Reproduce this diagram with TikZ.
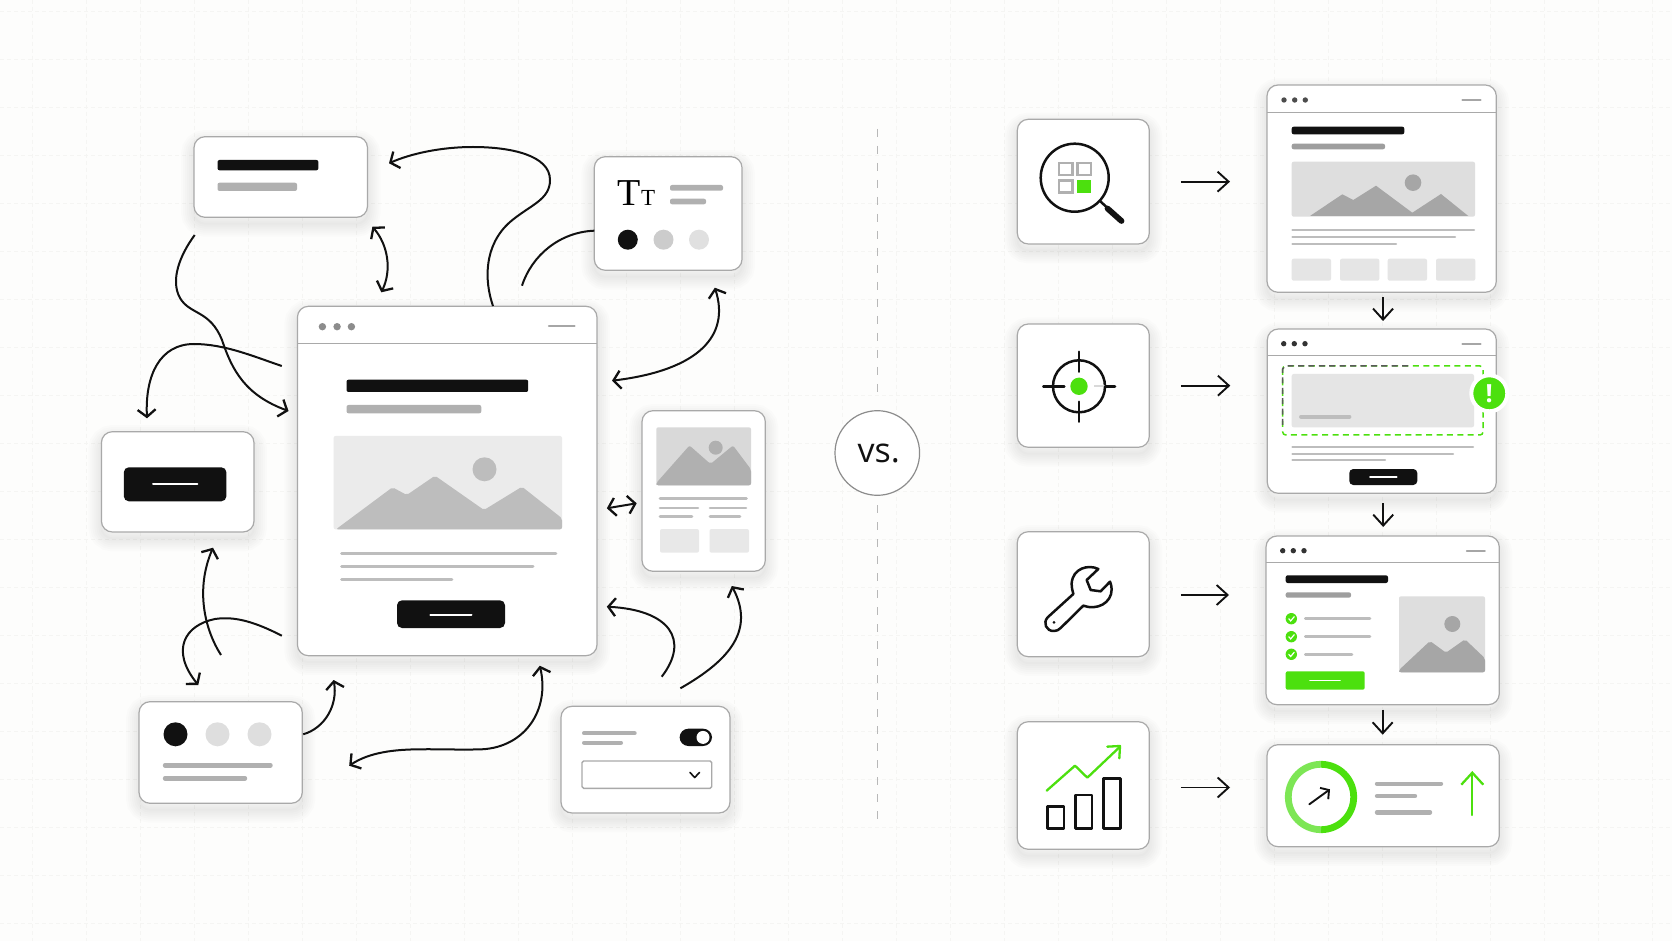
\documentclass[tikz,border=0pt]{standalone}
\usepackage{fontspec}
\setmainfont{Open Sans}
\newfontfamily\serifface{Liberation Serif}
\usepackage{xcolor}
\usepackage{tikz}
\usetikzlibrary{arrows,positioning,calc,arrows.meta}
\definecolor{paper}{HTML}{FDFDFC}
\definecolor{gridc}{HTML}{F5F5F3}
\definecolor{ink}{HTML}{111111}
\definecolor{edge}{HTML}{A9A9A9}
\definecolor{midg}{HTML}{B0B0B0}
\definecolor{lineg}{HTML}{BDBDBD}
\definecolor{softg}{HTML}{E6E6E6}
\definecolor{hit}{HTML}{4CE00E}
\definecolor{hitsoft}{HTML}{7DE655}

\begin{document}
\begin{tikzpicture}[x=0.5pt, y=-0.5pt,
  glow/.style={preaction={draw=black, fill=none, draw opacity=0.011, line width=#1,
    transform canvas={yshift=-3.2pt}}},
  card/.style={glow=1pt, glow=3pt, glow=5pt, glow=7pt, glow=9pt, glow=11pt, glow=13pt,
    draw=edge, fill=white, line width=0.6pt, rounded corners=5.5pt,
    inner sep=0pt, outer sep=0pt},
  head/.style={draw=edge, line width=0.6pt},
  dark/.style={fill=ink, rounded corners=1pt},
  grey/.style={fill=midg, rounded corners=1pt},
  txt/.style={draw=lineg, line width=1.5pt, line cap=round},
  txtw/.style={draw=white, line width=1pt, line cap=round},
  link/.style={draw=ink, line width=1pt, >={Straight Barb[length=3.6pt,width=9pt,line width=1.15pt]}},
  flow/.style={draw=ink, line width=0.95pt, ->, >={Straight Barb[length=5.5pt,width=10pt]}},
  icon/.style={draw=ink, line width=1.25pt, line cap=round, line join=round},
  hiticon/.style={draw=hit, line width=1.15pt, line cap=round, line join=round}]
  % Page and faint grid
  \fill[paper] (0,0) rectangle (1672,941);
  \useasboundingbox (0,0) rectangle (1672,941);
  \foreach \gx in {0,...,30}
    \draw[gridc, line width=0.5pt, dash pattern=on 2pt off 1.5pt] ({32.5+54*\gx},0) -- ({32.5+54*\gx},941);
  \foreach \gy in {0,...,19}
    \draw[gridc, line width=0.5pt, dash pattern=on 2pt off 1.5pt] (0,{11.5+48*\gy}) -- (1672,{11.5+48*\gy});

  % Left side cards
  \node[card, minimum width=86.75pt, minimum height=40.3pt] (title) at (280.75,177) {};
  \fill[dark] (217.5,160) rectangle (318.4,170.3);
  \fill[grey] (217.5,182.7) rectangle (297,191);

  \node[card, minimum width=73.85pt, minimum height=56.8pt] (typo) at (668.15,213.5) {};
  \node[inner sep=0pt] (tt) at (636.5,193) {\serifface\fontsize{19}{19}\selectfont T\fontsize{11.5}{12}\selectfont T};
  \fill[grey] (670,185) rectangle (723,190.7);
  \fill[grey] (670,198.7) rectangle (706,204.3);
  \fill[ink] (627.8,239.7) circle (10);
  \fill[black!20] (663.5,239.7) circle (10);
  \fill[black!12] (699,239.7) circle (10);

  % Main page
  \node[card, minimum width=149.8pt, minimum height=174.7pt] (main) at (447.2,481) {};
  \draw[head] (297.4,343.3) -- (597,343.3);
  \foreach \dx in {322.4,337.1,351.4}
    \fill[black!45] (\dx,326.7) circle (3.7);
  \draw[txt, line width=1pt, black!35] (548.8,326.3) -- (574.6,326.3);
  \fill[dark] (346.5,379.7) rectangle (528.2,392);
  \fill[grey] (346.5,405) rectangle (481.3,413.3);
  \fill[black!8, rounded corners=1pt] (333.6,436) rectangle (562,529.3);
  \fill[black!26, rounded corners=1pt] (336,529.3) -- (392.5,487.3) -- (406.8,495) -- (435,475.7)
    -- (484,510) -- (522,486.7) -- (562,518.3) -- (562,529.3) -- cycle;
  \fill[black!26] (484.5,469.3) circle (12);
  \draw[txt] (341.6,553.7) -- (555.9,553.7);
  \draw[txt] (341.6,566) -- (533,566);
  \draw[txt] (341.6,579) -- (451.9,579);
  \fill[dark, rounded corners=2.5pt] (397,600.3) rectangle (505,628);
  \draw[txtw] (430.4,614.7) -- (471.5,614.7);

  % Phone card
  \node[card, minimum width=61.65pt, minimum height=80.3pt] (phone) at (703.65,491) {};
  \fill[black!15, rounded corners=1pt] (656.3,427.3) rectangle (751,485.3);
  \fill[black!31, rounded corners=1pt] (656.3,483) -- (656.3,485.3) -- (751,485.3) -- (751,469.5)
    -- (733,445.5) -- (710.5,464) -- (689.5,445.5) -- cycle;
  \fill[black!31] (715.7,447.7) circle (7);
  \draw[txt, line width=1.3pt] (660,498.7) -- (746.5,498.7);
  \draw[txt, line width=1.3pt] (660,508) -- (698,508);
  \draw[txt, line width=1.3pt] (710,508) -- (746,508);
  \draw[txt, line width=1.3pt] (660,516.7) -- (692,516.7);
  \draw[txt, line width=1.3pt] (710,516.7) -- (740,516.7);
  \fill[black!9, rounded corners=1pt] (660,529) rectangle (699,552.7);
  \fill[black!9, rounded corners=1pt] (709.5,529) rectangle (749,552.7);

  % Button, swatch and form cards
  \node[card, minimum width=76.3pt, minimum height=50.15pt] (button) at (177.7,481.85) {};
  \fill[dark, rounded corners=2.5pt] (123.8,467.3) rectangle (226.4,501.3);
  \draw[txtw] (153,484) -- (197.4,484);

  \node[card, minimum width=81.65pt, minimum height=50.8pt] (swatch) at (220.65,752.5) {};
  \fill[ink] (175.5,734.3) circle (12);
  \fill[black!13] (217.5,734.3) circle (12);
  \fill[black!13] (259.5,734.3) circle (12);
  \draw[txt, midg, line width=2.2pt] (165,765.3) -- (270.5,765.3);
  \draw[txt, midg, line width=2.2pt] (165,778.3) -- (245,778.3);

  \node[card, minimum width=84.5pt, minimum height=53.35pt] (form) at (645.5,759.65) {};
  \draw[txt, midg, line width=2pt] (584,733.3) -- (634.7,733.3);
  \draw[txt, midg, line width=2pt] (584,742.7) -- (621,742.7);
  \fill[ink, rounded corners=4.4pt] (679.6,728.7) rectangle (712,746);
  \fill[white] (703,737.4) circle (6.5);
  \draw[edge, line width=0.7pt, rounded corners=0.8pt, fill=white] (582,761) rectangle (711.7,788.3);
  \draw[icon, line width=0.8pt] (690,772.5) -- (694.7,777.5) -- (699.5,772.5);

  % Arrows on the left
  \coordinate (a1) at (493,306);
  \coordinate (b1) at (389,163.3);
  \draw[link, ->] (a1) .. controls (484,280) and (484,245) .. (510,222)
    .. controls (530,205) and (550,200) .. (550,180)
    .. controls (550,155) and (510,147) .. (473,147)
    .. controls (440,147) and (410,154) .. (b1);
  \coordinate (a2) at (372.4,226.7);
  \coordinate (b2) at (381.3,292.3);
  \draw[link, <->] (a2) .. controls (388,245) and (392,270) .. (b2);
  \coordinate (a3) at (594.3,230.7);
  \coordinate (b3) at (522,285.7);
  \draw[link] (a3) .. controls (560,232) and (532,255) .. (b3);
  \coordinate (a4) at (714.8,287.7);
  \coordinate (b4) at (612,380.7);
  \draw[link, <->] (a4) .. controls (730,335) and (700,370) .. (b4);
  \coordinate (a5) at (606.8,508.3);
  \coordinate (b5) at (636.7,503.3);
  \draw[link, <->] (a5) -- (b5);
  \coordinate (a6) at (194.7,235);
  \coordinate (b6) at (288.5,411);
  \draw[link, ->] (a6) .. controls (180,255) and (170,280) .. (180,298)
    .. controls (190,315) and (210,310) .. (222,340)
    .. controls (232,370) and (245,395) .. (b6);
  \coordinate (a7) at (281.8,366);
  \coordinate (b7) at (147,418.3);
  \draw[link, ->] (a7) .. controls (255,357) and (225,344) .. (194,344)
    .. controls (160,344) and (145,375) .. (b7);
  \coordinate (a8) at (221,655);
  \coordinate (b8) at (213,547.7);
  \draw[link, ->] (a8) .. controls (205,630) and (195,590) .. (b8);
  \coordinate (a9) at (281.8,635.7);
  \coordinate (b9) at (198.3,685);
  \draw[link, ->] (a9) .. controls (255,622) and (235,616) .. (215,619)
    .. controls (185,625) and (170,650) .. (b9);
  \coordinate (a10) at (303.2,734.3);
  \coordinate (b10) at (333.6,680);
  \draw[link, ->] (a10) .. controls (325,728) and (338,705) .. (b10);
  \coordinate (a11) at (349.2,765.7);
  \coordinate (b11) at (539.8,665.7);
  \draw[link, <->] (a11) .. controls (370,752) and (395,749.5) .. (420,749.3)
    .. controls (440,749) and (460,750) .. (482,749.3)
    .. controls (525,747) and (550,710) .. (b11);
  \coordinate (a12) at (661.7,676.7);
  \coordinate (b12) at (606.8,606.7);
  \draw[link, ->] (a12) .. controls (690,640) and (670,610) .. (b12);
  \coordinate (a13) at (680.4,688.3);
  \coordinate (b13) at (731.8,586);
  \draw[link, ->] (a13) .. controls (730,660) and (755,630) .. (b13);

  % Divider
  \node[draw=black!45, fill=white, circle, line width=0.6pt, minimum size=42.3pt, inner sep=0pt, outer sep=0pt,
    font=\fontsize{17}{17}\selectfont, text=ink] (vs) at (877.3,453) {\raisebox{-1pt}{\hspace{1.5pt}vs.}};
  \coordinate (divtop) at (877.3,129);
  \coordinate (divbot) at (877.3,821);
  \draw[black!28, line width=0.7pt, dash pattern=on 4pt off 4.5pt, shorten >=5pt] (divtop) -- (vs.north);
  \draw[black!28, line width=0.7pt, dash pattern=on 4pt off 4.5pt, shorten <=5pt] (vs.south) -- (divbot);

  % Icon cards on the right
  \node[card, minimum width=66pt, minimum height=62.35pt] (find) at (1083.3,181.65) {};
  \draw[icon] (1074.7,177.7) circle (34);
  \draw[icon] (1100.5,201.5) -- (1107,207.5);
  \draw[icon, line width=2.9pt] (1107.5,208.5) -- (1121.5,221);
  \draw[midg, line width=1.2pt] (1059,163.3) rectangle (1072.3,175);
  \draw[midg, line width=1.2pt] (1077.3,163.3) rectangle (1090.7,175);
  \draw[midg, line width=1.2pt] (1059,180.7) rectangle (1072.3,192.7);
  \fill[hit] (1077.3,180.2) rectangle (1091,193.2);

  \node[card, minimum width=66pt, minimum height=61.65pt] (aim) at (1083.3,385.65) {};
  \draw[icon] (1079,386.3) circle (26);
  \draw[icon] (1043.3,386.3) -- (1064.3,386.3);
  \draw[black!15, line width=1pt] (1094.3,386.3) -- (1105,386.3);
  \draw[icon] (1105,386.3) -- (1115,386.3);
  \draw[icon] (1079,351.7) -- (1079,371.7);
  \draw[icon] (1079,401.7) -- (1079,421.7);
  \fill[hit] (1079,386.3) circle (8.7);

  \node[card, minimum width=66pt, minimum height=62.5pt] (fix) at (1083.3,594.2) {};
  \begin{scope}[shift={(1000,500)}, scale=1/3]
    \draw[icon] (295,207) .. controls (265,192) and (218,205) .. (215,250)
      .. controls (215,262) and (217,272) .. (220,282) -- (143,352)
      .. controls (128,368) and (138,394) .. (162,393)
      .. controls (170,393) and (176,390) .. (182,384) -- (250,317)
      .. controls (290,332) and (335,310) .. (335,268)
      .. controls (335,260) and (333,252) .. (330,245) -- (302,274)
      -- (272,270) -- (260,240) -- cycle;
    \fill[ink] (162,367) circle (4.5);
  \end{scope}

  \node[card, minimum width=66pt, minimum height=63.8pt] (growth) at (1083.3,785.5) {};
  \begin{scope}[shift={(1000,500)}, scale=1/3]
    \draw[hiticon] (140,872) -- (225,797) -- (262,833) -- (358,742);
    \draw[hiticon] (322,740) -- (360,738) -- (358,775);
    \draw[icon, line cap=butt] (142,920) rectangle (192,986);
    \draw[icon, line cap=butt] (226,885) rectangle (276,986);
    \draw[icon, line cap=butt] (310,836) rectangle (361,986);
  \end{scope}

  % Page one
  \node[card, minimum width=114.65pt, minimum height=103.65pt] (page1) at (1381.65,188.65) {};
  \draw[head] (1267,112.3) -- (1496.3,112.3);
  \foreach \dx in {1284,1294.7,1305.3}
    \fill[black!70] (\dx,100) circle (2.7);
  \draw[txt, line width=0.9pt, black!35] (1462.3,100) -- (1480.7,100);
  \fill[dark] (1291.7,126.7) rectangle (1404.3,134.3);
  \fill[grey, black!38] (1291.7,143.7) rectangle (1385,149.3);
  \fill[black!13, rounded corners=1pt] (1291.7,161.7) rectangle (1475,216.7);
  \fill[black!35] (1310,216) -- (1342.3,194.3) -- (1353.3,200) -- (1376,185.7) -- (1412.3,212.7)
    -- (1441,194) -- (1468.3,216) -- cycle;
  \fill[black!35] (1413,182.7) circle (8.3);
  \draw[txt, line width=1.1pt] (1292.5,230) -- (1474,230);
  \draw[txt, line width=1.1pt] (1292.5,237) -- (1455,237);
  \draw[txt, line width=1.1pt] (1292.5,244) -- (1396,244);
  \foreach \bx in {1291.7,1340,1387.7,1436}
    \fill[black!10, rounded corners=1pt] (\bx,258.7) rectangle ({\bx+39.3},280.7);

  % Page two
  \node[card, minimum width=114.5pt, minimum height=82.15pt] (page2) at (1381.8,411.15) {};
  \draw[head] (1267.3,355.3) -- (1496.3,355.3);
  \foreach \dx in {1283.7,1294.3,1305}
    \fill[black!80] (\dx,343.7) circle (2.7);
  \draw[txt, line width=0.9pt, black!35] (1462.3,343.7) -- (1480.7,343.7);
  \fill[black!10, rounded corners=1pt] (1291.7,374) rectangle (1474,427.3);
  \draw[txt, line width=1.9pt] (1301,416.7) -- (1349.5,416.7);
  \draw[hit, line width=0.75pt, dash pattern=on 3pt off 2.2pt, rounded corners=1.5pt] (1282.7,366) rectangle (1483,435);
  \draw[black!65, line width=0.75pt, dash pattern=on 3pt off 2.2pt] (1282.7,425) -- (1282.7,369) -- (1285,366) -- (1410,366);
  \draw[txt, line width=1.1pt] (1292.5,447) -- (1473,447);
  \draw[txt, line width=1.1pt] (1292.5,453.7) -- (1453,453.7);
  \draw[txt, line width=1.1pt] (1292.5,460.3) -- (1385,460.3);
  \fill[dark, rounded corners=2pt] (1349.3,469) rectangle (1417.3,485);
  \draw[txtw, line width=0.9pt] (1370,477) -- (1396.7,477);
  \node[circle, fill=hit, draw=white, line width=2pt, minimum size=18pt, inner sep=0pt,
    font=\bfseries\fontsize{12.5}{12.5}\selectfont, text=white] (alert) at (1489.3,393.3) {!};

  % Page three
  \node[card, minimum width=116.65pt, minimum height=84.35pt] (page3) at (1382.65,620.35) {};
  \draw[head] (1266,562.3) -- (1499.3,562.3);
  \foreach \dx in {1282.7,1293.3,1304}
    \fill[black!80] (\dx,550.7) circle (2.7);
  \draw[txt, line width=0.9pt, black!35] (1466.7,550.7) -- (1485,550.7);
  \fill[dark] (1285.7,575.3) rectangle (1388,583);
  \fill[grey, black!38] (1285.7,592.3) rectangle (1351,597.7);
  \foreach \cy/\cx in {618.7/1371,636.7/1371,654.3/1353} {
    \fill[hit] (1291.3,\cy) circle (5.7);
    \draw[txtw, line width=0.6pt] (1288.7,\cy) -- (1290.7,{\cy+2.2}) -- (1294.2,{\cy-2});
    \draw[txt, line width=1.3pt] (1305.3,\cy) -- ({\cx-1},\cy);
  }
  \fill[hit, rounded corners=1pt] (1285.7,671.3) rectangle (1364.7,689.7);
  \draw[txtw, line width=0.9pt] (1310,680.5) -- (1340,680.5);
  \fill[black!13, rounded corners=1pt] (1399,596.3) rectangle (1485,672.3);
  \fill[black!35, rounded corners=1pt] (1399,672.3) -- (1399,670) -- (1430,641) -- (1446,652.7)
    -- (1465,639.3) -- (1485,658.3) -- (1485,672.3) -- cycle;
  \fill[black!35] (1452.3,624) circle (8);

  % Result card
  \node[card, minimum width=116.15pt, minimum height=51pt] (kpi) at (1383.15,795.7) {};
  \draw[hit, line width=3.4pt] (1321,764.3) arc (-90:90:32.7);
  \draw[hitsoft, line width=3.4pt] (1321,829.7) arc (90:270:32.7);
  \draw[icon, line width=0.95pt, ->, >={Straight Barb[length=3pt,width=7pt]}] (1309.3,804.3) -- (1330,789.3);
  \draw[txt, midg, line width=2.2pt] (1377,783.7) -- (1441,783.7);
  \draw[txt, midg, line width=2.2pt] (1377,796) -- (1415,796);
  \draw[txt, midg, line width=2.2pt] (1377,812.3) -- (1430,812.3);
  \draw[hiticon, ->, >={Straight Barb[length=6pt,width=11pt]}] (1472.3,815) -- (1472.3,771);

  % Flow arrows
  \draw[flow, shorten <=15.8pt, shorten >=18.5pt] (find.east) -- (find.east -| page1.west);
  \draw[flow, shorten <=15.8pt, shorten >=18.5pt] (aim.east) -- (aim.east -| page2.west);
  \draw[flow, shorten <=15.8pt, shorten >=18.5pt, transform canvas={yshift=-0.4pt}] (fix.east) -- (fix.east -| page3.west);
  \draw[flow, shorten <=15.8pt, shorten >=18.5pt, transform canvas={yshift=-1pt}] (growth.east) -- (growth.east -| kpi.west);
  \draw[flow, shorten <=2.5pt, shorten >=4pt, transform canvas={xshift=0.7pt}] (page1.south) -- (page1.south |- page2.north);
  \draw[flow, shorten <=5pt, shorten >=4.5pt, transform canvas={xshift=0.7pt}] (page2.south) -- (page2.south |- page3.north);
  \draw[flow, shorten <=2.5pt, shorten >=5pt] (page3.south) -- (page3.south |- kpi.north);
\end{tikzpicture}
\end{document}
